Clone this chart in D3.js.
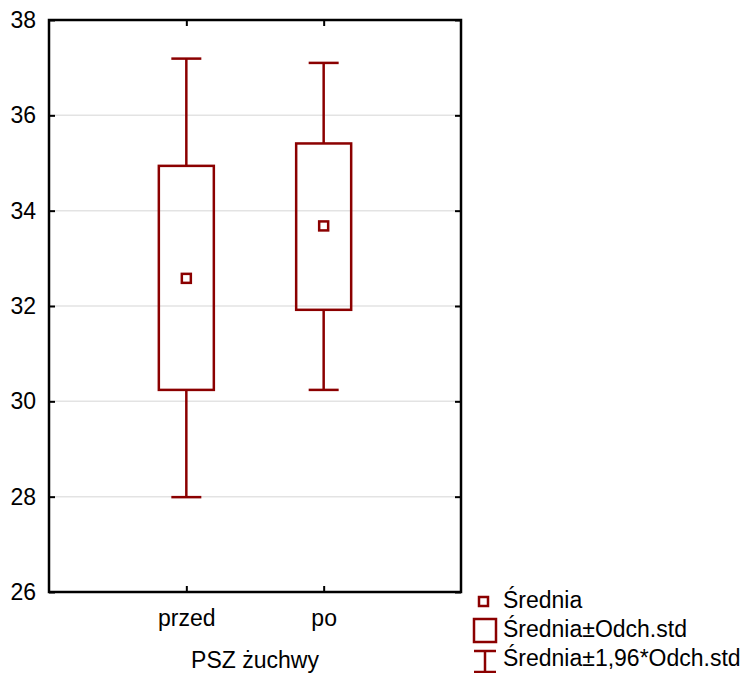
<!DOCTYPE html>
<html>
<head>
<meta charset="utf-8">
<script src="https://cdn.jsdelivr.net/npm/d3@7"></script>
<style>
  body { margin: 0; background: #fff; }
  text { font-family: "Liberation Sans", Arial, sans-serif; fill: #000; }
</style>
</head>
<body>
<div class="canvas"></div>
<script>
// data
const categories = ['przed', 'po'];
const means = [32.58, 33.68];
const sdLow = [30.24, 31.92];
const sdHigh = [34.94, 35.41];
const ciLow = [27.99, 30.24];
const ciHigh = [37.19, 37.10];
const yTicks = [26, 28, 30, 32, 34, 36, 38];
const legendLabels = ['Średnia', 'Średnia±Odch.std', 'Średnia±1,96*Odch.std'];

const dims = { width: 748, height: 673 };
const plot = { left: 49, right: 461, top: 20, bottom: 592 };
const red = '#8b0000';
const fontSize = 23;

const svg = d3.select('.canvas')
  .append('svg')
  .attr('width', dims.width)
  .attr('height', dims.height);

const x = d3.scalePoint()
  .domain(categories)
  .range([plot.left, plot.right])
  .padding(1);

const y = d3.scaleLinear()
  .domain([26, 38])
  .range([plot.bottom, plot.top]);

// gridlines
svg.append('g')
  .selectAll('line')
  .data(yTicks.slice(1, -1))
  .enter().append('line')
    .attr('x1', plot.left).attr('x2', plot.right)
    .attr('y1', d => y(d)).attr('y2', d => y(d))
    .attr('stroke', '#e3e3e3')
    .attr('stroke-width', 1.5);

// axes with inward ticks
const tickLen = 6;
svg.append('g')
  .attr('transform', `translate(${plot.left},0)`)
  .call(d3.axisLeft(y).tickValues(yTicks).tickSize(-tickLen).tickPadding(13))
  .call(g => g.select('.domain').remove());

svg.append('g')
  .attr('transform', `translate(${plot.right},0)`)
  .call(d3.axisRight(y).tickValues(yTicks).tickSize(-tickLen).tickFormat(''))
  .call(g => g.select('.domain').remove());

svg.append('g')
  .attr('transform', `translate(0,${plot.bottom})`)
  .call(d3.axisBottom(x).tickSize(-tickLen).tickPadding(18))
  .call(g => g.select('.domain').remove());

svg.append('g')
  .attr('transform', `translate(0,${plot.top})`)
  .call(d3.axisTop(x).tickSize(-tickLen).tickFormat(''))
  .call(g => g.select('.domain').remove());

svg.selectAll('.tick line').attr('stroke', '#000').attr('stroke-width', 2);
svg.selectAll('.tick text')
  .attr('font-size', fontSize)
  .attr('font-family', '"Liberation Sans", Arial, sans-serif');

// frame
svg.append('rect')
  .attr('x', plot.left).attr('y', plot.top)
  .attr('width', plot.right - plot.left)
  .attr('height', plot.bottom - plot.top)
  .attr('fill', 'none')
  .attr('stroke', '#000')
  .attr('stroke-width', 2.5);

// x axis title
svg.append('text')
  .attr('x', (plot.left + plot.right) / 2)
  .attr('y', 668)
  .attr('text-anchor', 'middle')
  .attr('font-size', fontSize)
  .text('PSZ żuchwy');

// boxes + whiskers
const boxW = 55, capW = 30, markS = 9;
const rows = categories.map((c, i) => ({
  c, mean: means[i], lo: sdLow[i], hi: sdHigh[i], wlo: ciLow[i], whi: ciHigh[i]
}));

const grp = svg.append('g')
  .selectAll('g')
  .data(rows)
  .enter().append('g')
    .attr('stroke', red)
    .attr('stroke-width', 2.5)
    .attr('fill', 'none');

grp.append('line')
  .attr('x1', d => x(d.c)).attr('x2', d => x(d.c))
  .attr('y1', d => y(d.whi)).attr('y2', d => y(d.hi));
grp.append('line')
  .attr('x1', d => x(d.c)).attr('x2', d => x(d.c))
  .attr('y1', d => y(d.lo)).attr('y2', d => y(d.wlo));
grp.append('line')
  .attr('x1', d => x(d.c) - capW / 2).attr('x2', d => x(d.c) + capW / 2)
  .attr('y1', d => y(d.whi)).attr('y2', d => y(d.whi));
grp.append('line')
  .attr('x1', d => x(d.c) - capW / 2).attr('x2', d => x(d.c) + capW / 2)
  .attr('y1', d => y(d.wlo)).attr('y2', d => y(d.wlo));
grp.append('rect')
  .attr('x', d => x(d.c) - boxW / 2)
  .attr('y', d => y(d.hi))
  .attr('width', boxW)
  .attr('height', d => y(d.lo) - y(d.hi));
grp.append('rect')
  .attr('x', d => x(d.c) - markS / 2)
  .attr('y', d => y(d.mean) - markS / 2)
  .attr('width', markS).attr('height', markS)
  .attr('fill', '#fff');

// legend
const legend = svg.append('g')
  .attr('stroke', red)
  .attr('stroke-width', 2.5)
  .attr('fill', 'none');

legend.append('rect')
  .attr('x', 479).attr('y', 597).attr('width', markS).attr('height', markS);
legend.append('rect')
  .attr('x', 474).attr('y', 619).attr('width', 22).attr('height', 23);
legend.append('line').attr('x1', 485).attr('x2', 485).attr('y1', 651).attr('y2', 672);
legend.append('line').attr('x1', 474).attr('x2', 496).attr('y1', 651).attr('y2', 651);
legend.append('line').attr('x1', 474).attr('x2', 496).attr('y1', 672).attr('y2', 672);

svg.append('g')
  .selectAll('text')
  .data(legendLabels)
  .enter().append('text')
    .attr('x', 503)
    .attr('y', (d, i) => 608 + i * 29)
    .attr('font-size', fontSize)
    .text(d => d);
</script>
</body>
</html>
